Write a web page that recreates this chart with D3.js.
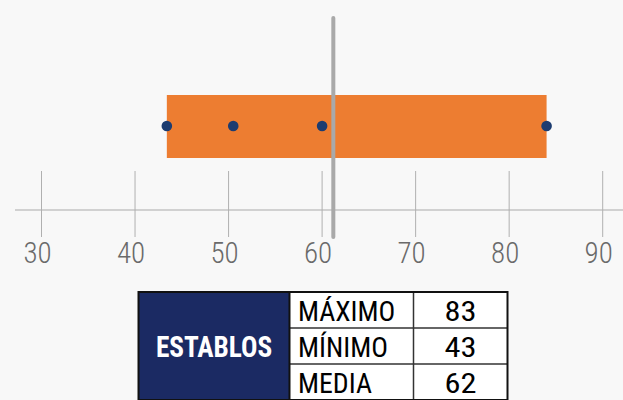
<!DOCTYPE html>
<html lang="es">
<head>
<meta charset="UTF-8">
<title>Establos</title>
<style>
  body { margin: 0; background: #f8f8f8; }
  svg { display: block; }
  .tick-label { font-family: "Liberation Sans Narrow", "Roboto Condensed", "DejaVu Sans Condensed", sans-serif; fill: #6a6a6a; font-weight: 300; }
  .cell-text { font-family: "Liberation Sans Narrow", "Roboto Condensed", "DejaVu Sans Condensed", sans-serif; fill: #000; }
</style>
</head>
<body>
<script src="https://d3js.org/d3.v7.min.js"></script>
<script>
  // values
  const tickValues = [30, 40, 50, 60, 70, 80, 90];
  const points = [43.4, 50.5, 60, 84];
  const meanLine = 61.2;
  const groupName = "ESTABLOS";
  const statNames = ["MÁXIMO", "MÍNIMO", "MEDIA"];
  const statValues = [83, 43, 62];

  const width = 623, height = 400;

  const svg = d3.select("body").append("svg")
    .attr("width", width)
    .attr("height", height);

  svg.append("rect")
    .attr("width", width).attr("height", height)
    .attr("fill", "#f8f8f8");

  const x = d3.scaleLinear().domain([30, 90]).range([41.5, 602.7]);

  const axisY = 210;

  // stretch text horizontally to mimic the wider/narrower original face
  function stretch(sel, k) {
    sel.each(function () {
      const w = this.getComputedTextLength();
      d3.select(this)
        .attr("textLength", w * k)
        .attr("lengthAdjust", "spacingAndGlyphs");
    });
  }

  // axis baseline
  svg.append("line")
    .attr("x1", 15).attr("x2", width)
    .attr("y1", axisY).attr("y2", axisY)
    .attr("stroke", "#c4c4c4")
    .attr("stroke-width", 1.5);

  // tick marks crossing the baseline
  svg.selectAll(".tick-mark")
    .data(tickValues)
    .enter().append("line")
    .attr("class", "tick-mark")
    .attr("x1", d => x(d)).attr("x2", d => x(d))
    .attr("y1", 171).attr("y2", 237)
    .attr("stroke", "#b0b0b0")
    .attr("stroke-width", 1);

  svg.selectAll(".tick-label")
    .data(tickValues)
    .enter().append("text")
    .attr("class", "tick-label")
    .attr("x", d => x(d) - 4)
    .attr("y", 263)
    .attr("text-anchor", "middle")
    .attr("font-size", 29)
    .text(d => d);

  // range bar
  const [lo, hi] = d3.extent(points);
  svg.append("rect")
    .attr("x", x(lo))
    .attr("y", 95)
    .attr("width", x(hi) - x(lo))
    .attr("height", 63)
    .attr("fill", "#ed7d31");

  // mean line
  svg.append("line")
    .attr("x1", x(meanLine)).attr("x2", x(meanLine))
    .attr("y1", 18).attr("y2", 237)
    .attr("stroke", "#a9a9a9")
    .attr("stroke-width", 4)
    .attr("stroke-linecap", "round");

  svg.selectAll(".dot")
    .data(points)
    .enter().append("circle")
    .attr("class", "dot")
    .attr("cx", d => x(d))
    .attr("cy", 126)
    .attr("r", 5.3)
    .attr("fill", "#1c3c70");

  // summary table
  const tX = 138.5, tY = 292, rowH = 36;
  const c1 = 289.5, c2 = 413.5, tRight = 507.5;

  const table = svg.append("g");

  table.append("rect")
    .attr("x", tX).attr("y", tY)
    .attr("width", c1 - tX).attr("height", rowH * 3)
    .attr("fill", "#1b2a63");

  table.selectAll(".row-bg")
    .data(statNames)
    .enter().append("rect")
    .attr("x", c1).attr("y", (d, i) => tY + i * rowH)
    .attr("width", tRight - c1).attr("height", rowH)
    .attr("fill", "#fff");

  // row separators
  table.selectAll(".row-line")
    .data([1, 2])
    .enter().append("line")
    .attr("x1", c1).attr("x2", tRight)
    .attr("y1", d => tY + d * rowH).attr("y2", d => tY + d * rowH)
    .attr("stroke", "#333").attr("stroke-width", 1.5);

  table.append("line")
    .attr("x1", c2).attr("x2", c2)
    .attr("y1", tY).attr("y2", tY + rowH * 3)
    .attr("stroke", "#333").attr("stroke-width", 1.5);

  table.append("line")
    .attr("x1", c1).attr("x2", c1)
    .attr("y1", tY).attr("y2", tY + rowH * 3)
    .attr("stroke", "#111").attr("stroke-width", 2);

  table.append("rect")
    .attr("x", tX).attr("y", tY)
    .attr("width", tRight - tX).attr("height", rowH * 3)
    .attr("fill", "none")
    .attr("stroke", "#111").attr("stroke-width", 2);

  table.append("text")
    .attr("class", "cell-text")
    .attr("x", (tX + c1) / 2)
    .attr("y", 357)
    .attr("text-anchor", "middle")
    .attr("font-size", 29)
    .attr("font-weight", "bold")
    .style("fill", "#fff")
    .text(groupName)
    .call(stretch, 0.94);

  table.selectAll(".stat-name")
    .data(statNames)
    .enter().append("text")
    .attr("class", "cell-text stat-name")
    .attr("x", 298)
    .attr("y", (d, i) => tY + i * rowH + 29)
    .attr("font-size", 27)
    .text(d => d)
    .call(stretch, 1.03);

  table.selectAll(".stat-value")
    .data(statValues)
    .enter().append("text")
    .attr("class", "cell-text stat-value")
    .attr("x", (c2 + tRight) / 2)
    .attr("y", (d, i) => tY + i * rowH + 29)
    .attr("text-anchor", "middle")
    .attr("font-size", 27)
    .text(d => d)
    .call(stretch, 1.2);
</script>
</body>
</html>
